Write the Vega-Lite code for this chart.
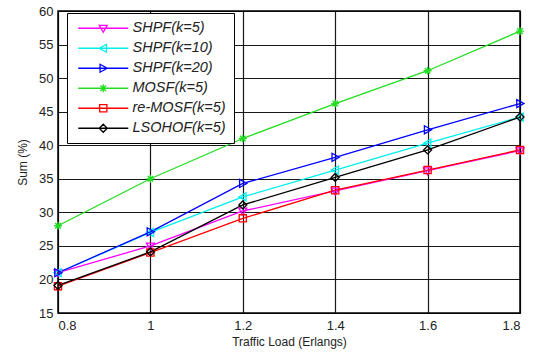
{
  "$schema": "https://vega.github.io/schema/vega-lite/v6.json",
  "width": 462,
  "height": 302,
  "autosize": "none",
  "padding": {"left": 58, "top": 11, "right": 16, "bottom": 39},
  "background": "white",
  "config": {
    "view": {"stroke": "#000", "strokeWidth": 1.5},
    "font": "Liberation Sans",
    "axis": {
      "grid": true, "gridColor": "#000", "gridOpacity": 0.9, "gridWidth": 1.2,
      "domain": false, "ticks": false,
      "labelFont": "Liberation Sans", "labelFontSize": 13, "labelColor": "#222",
      "titleFont": "Liberation Sans", "titleFontSize": 12, "titleFontWeight": "normal", "titleColor": "#222"
    },
    "legend": {
      "orient": "none", "legendX": 9, "legendY": 2,
      "strokeColor": "#000", "fillColor": "#fff", "padding": 8,
      "symbolSize": 64, "symbolStrokeWidth": 1.3, "symbolFillColor": "transparent",
      "labelOffset": 43, "labelFontSize": 14.5, "labelFontStyle": "italic", "labelColor": "#222", "labelFont": "Liberation Sans",
      "rowPadding": 5
    },
    "point": {"filled": false, "strokeWidth": 1.3, "size": 64, "opacity": 1}
  },
  "data": {"values": [
    {"series": "SHPF(k=5)", "x": 0.8, "y": 21}, {"series": "SHPF(k=5)", "x": 1.0, "y": 25}, {"series": "SHPF(k=5)", "x": 1.2, "y": 30.2}, {"series": "SHPF(k=5)", "x": 1.4, "y": 33.2}, {"series": "SHPF(k=5)", "x": 1.6, "y": 36.2}, {"series": "SHPF(k=5)", "x": 1.8, "y": 39.2},
    {"series": "SHPF(k=10)", "x": 0.8, "y": 21}, {"series": "SHPF(k=10)", "x": 1.0, "y": 27}, {"series": "SHPF(k=10)", "x": 1.2, "y": 32.3}, {"series": "SHPF(k=10)", "x": 1.4, "y": 36.3}, {"series": "SHPF(k=10)", "x": 1.6, "y": 40.3}, {"series": "SHPF(k=10)", "x": 1.8, "y": 44.2},
    {"series": "SHPF(k=20)", "x": 0.8, "y": 21}, {"series": "SHPF(k=20)", "x": 1.0, "y": 27.1}, {"series": "SHPF(k=20)", "x": 1.2, "y": 34.3}, {"series": "SHPF(k=20)", "x": 1.4, "y": 38.2}, {"series": "SHPF(k=20)", "x": 1.6, "y": 42.3}, {"series": "SHPF(k=20)", "x": 1.8, "y": 46.2},
    {"series": "MOSF(k=5)", "x": 0.8, "y": 28}, {"series": "MOSF(k=5)", "x": 1.0, "y": 35}, {"series": "MOSF(k=5)", "x": 1.2, "y": 41}, {"series": "MOSF(k=5)", "x": 1.4, "y": 46.2}, {"series": "MOSF(k=5)", "x": 1.6, "y": 51.1}, {"series": "MOSF(k=5)", "x": 1.8, "y": 57},
    {"series": "re-MOSF(k=5)", "x": 0.8, "y": 19}, {"series": "re-MOSF(k=5)", "x": 1.0, "y": 24}, {"series": "re-MOSF(k=5)", "x": 1.2, "y": 29.1}, {"series": "re-MOSF(k=5)", "x": 1.4, "y": 33.3}, {"series": "re-MOSF(k=5)", "x": 1.6, "y": 36.3}, {"series": "re-MOSF(k=5)", "x": 1.8, "y": 39.3},
    {"series": "LSOHOF(k=5)", "x": 0.8, "y": 19.1}, {"series": "LSOHOF(k=5)", "x": 1.0, "y": 24.1}, {"series": "LSOHOF(k=5)", "x": 1.2, "y": 31.1}, {"series": "LSOHOF(k=5)", "x": 1.4, "y": 35.2}, {"series": "LSOHOF(k=5)", "x": 1.6, "y": 39.3}, {"series": "LSOHOF(k=5)", "x": 1.8, "y": 44.2}
  ]},
  "encoding": {
    "x": {"field": "x", "type": "quantitative", "scale": {"domain": [0.8, 1.8], "nice": false, "zero": false},
      "axis": {"values": [0.8, 1, 1.2, 1.4, 1.6, 1.8], "format": "~g", "labelPadding": 6, "title": "Traffic Load (Erlangs)", "titlePadding": 4}},
    "y": {"field": "y", "type": "quantitative", "scale": {"domain": [15, 60], "nice": false, "zero": false},
      "axis": {"values": [15, 20, 25, 30, 35, 40, 45, 50, 55, 60], "labelPadding": 5, "title": "Sum (%)", "titlePadding": 9}}
  },
  "layer": [
    {"mark": {"type": "line", "strokeWidth": 1.3},
     "encoding": {
       "color": {"field": "series", "type": "nominal",
         "scale": {"domain": ["SHPF(k=5)", "SHPF(k=10)", "SHPF(k=20)", "MOSF(k=5)", "re-MOSF(k=5)", "LSOHOF(k=5)"],
           "range": ["#ff00ff", "#00eeee", "#0000ff", "#22dd22", "#ff0000", "#000000"]},
         "legend": {
           "title": null,
           "encode": {"symbols": {"update": {
             "shape": {"signal": "datum.value === 'SHPF(k=5)' ? 'M-1,0H11.5M4.25,-0.7L6.25,-0.7L5.25,1Z' : datum.value === 'SHPF(k=10)' ? 'M-1,0H11.5M6.05,-1L6.05,1L4.25,0Z' : datum.value === 'SHPF(k=20)' ? 'M-1,0H11.5M4.45,-1L4.45,1L6.25,0Z' : datum.value === 'MOSF(k=5)' ? 'M-1,0H11.5M5.25,-1L5.25,1M4.55,-0.7L5.95,0.7M4.55,0.7L5.95,-0.7' : datum.value === 're-MOSF(k=5)' ? 'M-1,0H11.5M4.35,-0.9H6.15V0.9H4.35Z' : 'M-1,0H11.5M5.25,-1L6.25,0L5.25,1L4.25,0Z'"},
             "stroke": {"scale": "color", "field": "value"},
             "fill": {"value": "transparent"},
             "size": {"value": 64},
             "strokeWidth": {"value": 1.3}
           }}}
         }}
     }},
    {"transform": [{"filter": "datum.series === 'SHPF(k=5)'"}],
     "mark": {"type": "point", "shape": "M-1,-0.7L1,-0.7L0,1Z"},
     "encoding": {"color": {"field": "series", "type": "nominal", "legend": null}}},
    {"transform": [{"filter": "datum.series === 'SHPF(k=10)'"}],
     "mark": {"type": "point", "shape": "M0.8,-1L0.8,1L-1,0Z"},
     "encoding": {"color": {"field": "series", "type": "nominal", "legend": null}}},
    {"transform": [{"filter": "datum.series === 'SHPF(k=20)'"}],
     "mark": {"type": "point", "shape": "M-0.8,-1L-0.8,1L1,0Z"},
     "encoding": {"color": {"field": "series", "type": "nominal", "legend": null}}},
    {"transform": [{"filter": "datum.series === 'MOSF(k=5)'"}],
     "mark": {"type": "point", "shape": "M-1,0L1,0M0,-1L0,1M-0.7,-0.7L0.7,0.7M-0.7,0.7L0.7,-0.7"},
     "encoding": {"color": {"field": "series", "type": "nominal", "legend": null}}},
    {"transform": [{"filter": "datum.series === 're-MOSF(k=5)'"}],
     "mark": {"type": "point", "shape": "M-0.9,-0.9H0.9V0.9H-0.9Z"},
     "encoding": {"color": {"field": "series", "type": "nominal", "legend": null}}},
    {"transform": [{"filter": "datum.series === 'LSOHOF(k=5)'"}],
     "mark": {"type": "point", "shape": "M0,-1L1,0L0,1L-1,0Z"},
     "encoding": {"color": {"field": "series", "type": "nominal", "legend": null}}}
  ]
}
